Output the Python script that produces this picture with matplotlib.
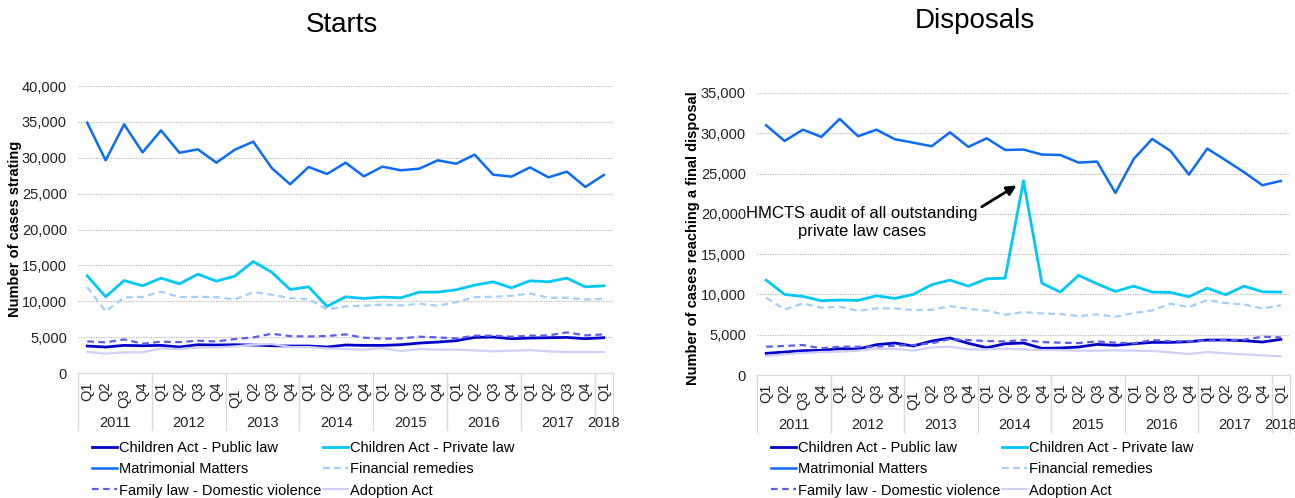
import numpy as np
import matplotlib
matplotlib.use("Agg")
from matplotlib import pyplot as plt

plt.rcParams['font.family'] = ['Liberation Sans', 'DejaVu Sans']

quarters = ["Q1", "Q2", "Q3", "Q4"] * 7 + ["Q1"]
years = ["2011", "2012", "2013", "2014", "2015", "2016", "2017", "2018"]

# starts per quarter, 2011 Q1 - 2018 Q1
starts_public = [3760, 3620, 3850, 3800, 3850, 3620, 3940, 3900, 3940, 3900, 3800, 3760,
                 3760, 3620, 3900, 3850, 3850, 3940, 4170, 4310, 4500, 4960, 5010, 4780,
                 4870, 4920, 4960, 4780, 4920]
starts_private = [13540, 10620, 12890, 12150, 13220, 12430, 13780, 12800, 13500, 15540, 14050, 11640,
                  12010, 9280, 10620, 10390, 10580, 10480, 11270, 11270, 11600, 12240, 12710, 11870,
                  12850, 12710, 13220, 12010, 12150]
starts_matrimonial = [34880, 29640, 34650, 30750, 33810, 30700, 31170, 29310, 31120, 32240, 28570, 26300,
                      28710, 27740, 29310, 27410, 28760, 28250, 28480, 29640, 29170, 30430, 27640, 27370,
                      28660, 27270, 28060, 25930, 27600]
starts_financial = [11970, 8580, 10530, 10620, 11320, 10580, 10620, 10580, 10250, 11270, 10900, 10440,
                    10300, 8860, 9280, 9370, 9550, 9410, 9650, 9370, 9880, 10580, 10620, 10760,
                    11090, 10480, 10480, 10250, 10340]
starts_domestic = [4400, 4270, 4680, 4080, 4360, 4310, 4500, 4400, 4730, 4960, 5470, 5150,
                   5100, 5150, 5380, 4920, 4780, 4820, 5060, 4960, 4820, 5200, 5200, 5060,
                   5200, 5240, 5660, 5240, 5380]
starts_adoption = [2970, 2690, 2880, 2880, 3430, 3340, 3570, 3570, 3710, 3940, 4040, 3620,
                   3620, 3430, 3340, 3250, 3480, 3060, 3340, 3250, 3250, 3150, 3020, 3110,
                   3200, 3020, 2920, 2920, 2920]

# disposals per quarter, 2011 Q1 - 2018 Q1
disp_public = [2690, 2850, 3020, 3060, 3260, 3220, 3760, 3970, 3600, 4210, 4590, 3930,
               3390, 3880, 3970, 3310, 3350, 3470, 3800, 3680, 3880, 4050, 4050, 4130,
               4340, 4340, 4260, 4090, 4420]
disp_private = [11780, 10000, 9750, 9220, 9300, 9260, 9830, 9500, 10000, 11200, 11780, 11030,
                11940, 12020, 24090, 11400, 10290, 12360, 11320, 10370, 11030, 10290, 10250, 9710,
                10790, 9960, 11030, 10330, 10290]
disp_matrimonial = [30990, 29050, 30450, 29550, 31780, 29630, 30450, 29260, 28840, 28390, 30120, 28310,
                    29380, 27930, 27980, 27360, 27310, 26360, 26490, 22600, 26820, 29300, 27810, 24880,
                    28100, 26650, 25170, 23550, 24090]
disp_financial = [9590, 8140, 8880, 8350, 8470, 7980, 8260, 8260, 8060, 8100, 8550, 8220,
                  7980, 7480, 7810, 7640, 7560, 7310, 7520, 7230, 7690, 8020, 8840, 8430,
                  9300, 8930, 8760, 8260, 8640]
disp_domestic = [3510, 3600, 3720, 3310, 3510, 3510, 3510, 3640, 3720, 3930, 4460, 4340,
                 4210, 4170, 4340, 4090, 4010, 3970, 4170, 4010, 3930, 4340, 4210, 4170,
                 4260, 4340, 4380, 4750, 4670]
disp_adoption = [2360, 2560, 2730, 2850, 2890, 3020, 3260, 3260, 3020, 3430, 3510, 3180,
                 3180, 3260, 3180, 3100, 3100, 3020, 3020, 3060, 3020, 2980, 2810, 2600,
                 2850, 2690, 2560, 2440, 2310]

series_names = ["Children Act - Public law", "Children Act - Private law", "Matrimonial Matters",
                "Financial remedies", "Family law - Domestic violence", "Adoption Act"]
colors = ["#0000C8", "#00C8F5", "#0A6CF5", "#A3CDFA", "#5C5CF0", "#CFCFFA"]
styles = ["-", "-", "-", (0, (3, 2)), (0, (3, 2)), "-"]
widths = [2.0, 2.0, 1.8, 1.6, 1.6, 1.6]

W, H = 1295, 498
fig = plt.figure(figsize=(W / 100, H / 100), dpi=100)


def make_axes(x0, x1, ytop, ybot):
    return fig.add_axes([x0 / W, 1 - ybot / H, (x1 - x0) / W, (ybot - ytop) / H])


def draw(ax, data, ymax, ystep, legend_x):
    x = np.arange(len(quarters))
    handles = []
    for vals, name, c, ls, lw in zip(data, series_names, colors, styles, widths):
        h, = ax.plot(x, vals, color=c, linestyle=ls, lw=lw, label=name, zorder=3)
        handles.append(h)
    ax.set_xlim(-0.5, len(quarters) - 0.5)
    ax.set_ylim(0, ymax)
    ax.set_yticks(np.arange(0, ymax + 1, ystep))
    ax.yaxis.set_major_formatter(matplotlib.ticker.FuncFormatter(lambda v, p: f"{int(v):,}"))
    ax.tick_params(axis='y', length=0, pad=8, labelsize=10.5, colors='#222222')
    ax.set_xticks([])
    ax.grid(axis='y', color='#BBBBBB', linestyle=(0, (1, 1)), lw=0.9, zorder=0)
    for s in ["top", "right", "left"]:
        ax.spines[s].set_visible(False)
    ax.spines["bottom"].set_color("#D9D9D9")

    # two-level category axis: quarters then years, with separators
    ax_h = ax.get_position().height * H
    sep_frac = -57 / ax_h
    for i, q in enumerate(quarters):
        dy = -11 if i in (2, 8) else -6
        ax.annotate(q, xy=(i, 0), xycoords=('data', 'axes fraction'), xytext=(0, dy),
                    textcoords='offset points', rotation=90, ha='center', va='top',
                    fontsize=10.5, color='#222222')
    for k, yr in enumerate(years):
        start = 4 * k
        end = min(start + 3, len(quarters) - 1)
        ax.annotate(yr, xy=((start + end) / 2, 0), xycoords=('data', 'axes fraction'),
                    xytext=(0, -36), textcoords='offset points', ha='center', va='center',
                    fontsize=10.5, color='#222222')
    for b in list(np.arange(-0.5, len(quarters), 4)) + [len(quarters) - 0.5]:
        ax.plot([b, b], [0, sep_frac], transform=ax.get_xaxis_transform(),
                color='#D9D9D9', lw=1, clip_on=False)

    order = [0, 2, 4, 1, 3, 5]
    fig.legend([handles[i] for i in order], [series_names[i] for i in order],
               loc='upper left', bbox_to_anchor=(legend_x / W, 1 - 441 / H), ncol=2,
               frameon=False, fontsize=10.5, handlelength=1.7, handletextpad=0.15,
               columnspacing=0.1, labelspacing=0.5, borderpad=0, borderaxespad=0)


ax1 = make_axes(78, 613, 86, 373)
draw(ax1, [starts_public, starts_private, starts_matrimonial, starts_financial,
           starts_domestic, starts_adoption], 40000, 5000, 92)

ax2 = make_axes(757, 1290, 93, 375)
draw(ax2, [disp_public, disp_private, disp_matrimonial, disp_financial,
           disp_domestic, disp_adoption], 35000, 5000, 771)

ax2.text(5.2, 18900, "HMCTS audit of all outstanding\nprivate law cases", ha='center',
         va='center', fontsize=12, linespacing=1.25, zorder=5)
ax2.annotate("", xy=(13.75, 23700), xytext=(11.6, 20700),
             arrowprops=dict(arrowstyle='-|>', color='black', lw=2, mutation_scale=14))

fig.text(342 / W, 1 - 25 / H, "Starts", ha='center', va='center', fontsize=20)
fig.text(975 / W, 1 - 21 / H, "Disposals", ha='center', va='center', fontsize=20)
fig.text(15 / W, 1 - 229 / H, "Number of cases strating", rotation=90, ha='center',
         va='center', fontsize=10.5, fontweight='bold')
fig.text(693 / W, 1 - 238 / H, "Number of cases reaching a final disposal", rotation=90,
         ha='center', va='center', fontsize=10.5, fontweight='bold')

fig.savefig("out.png", dpi=100)
